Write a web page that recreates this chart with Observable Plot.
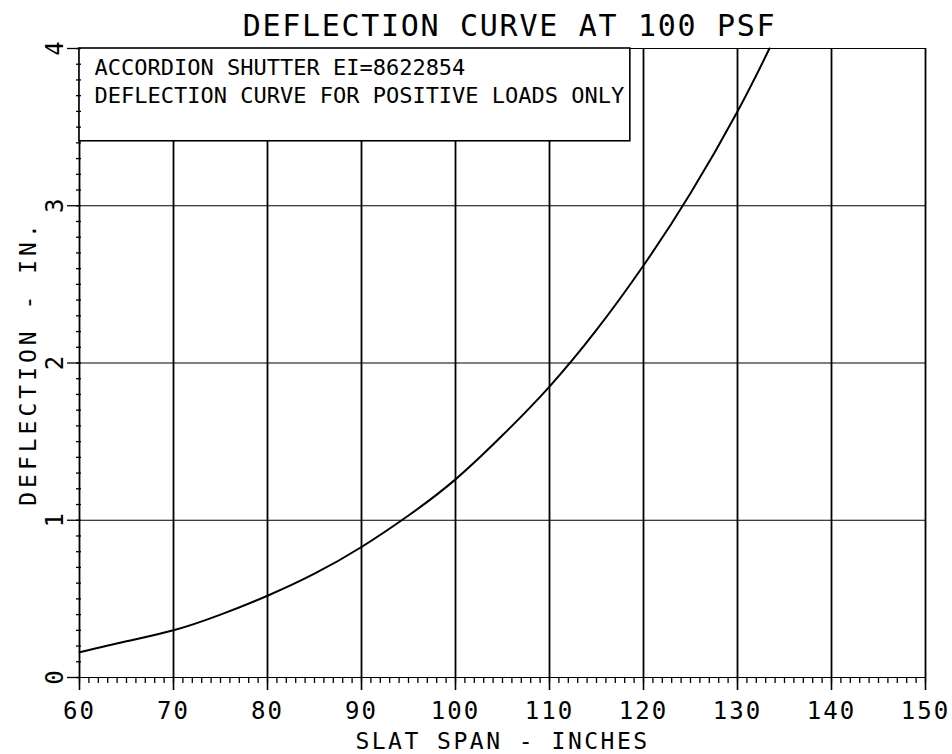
<!DOCTYPE html>
<html>
<head>
<meta charset="utf-8">
<script src="https://cdn.jsdelivr.net/npm/d3@7"></script>
<script src="https://cdn.jsdelivr.net/npm/@observablehq/plot@0.6"></script>
<style>
html, body { margin: 0; padding: 0; background: #fff; }
#chart svg { display: block; }
</style>
</head>
<body>
<div id="chart"></div>
<script>
// Data
const spanIn = [60, 65, 70, 75, 80, 85, 90, 95, 100, 105, 110, 115, 120, 125, 130, 133.4];
const deflectionIn = [0.16, 0.23, 0.30, 0.40, 0.52, 0.66, 0.83, 1.03, 1.26, 1.54, 1.85, 2.21, 2.62, 3.08, 3.60, 4.0];

const xTicks = [60, 70, 80, 90, 100, 110, 120, 130, 140, 150];
const xMinorTicks = d3.range(60, 151, 1);
const yTicks = [0, 1, 2, 3, 4];
const yMinorTicks = d3.range(0, 41, 1).map(d => d / 10);

const titleText = "DEFLECTION CURVE AT 100 PSF";
const legendLines = ["ACCORDION SHUTTER EI=8622854", "DEFLECTION CURVE FOR POSITIVE LOADS ONLY"];
const xLabelText = "SLAT SPAN - INCHES";
const yLabelText = "DEFLECTION - IN.";

const curve = spanIn.map((s, i) => ({span: s, deflection: deflectionIn[i]}));
const legendBox = [{x1: 60, x2: 118.6, y1: 3.41, y2: 4}];

const font = "DejaVu Sans Mono";

const chart = Plot.plot({
  width: 952,
  height: 754,
  marginLeft: 79,
  marginRight: 27,
  marginTop: 48,
  marginBottom: 77,
  style: {fontFamily: font, background: "#fff", color: "#000"},
  x: {domain: [60, 150], label: null},
  y: {domain: [0, 4], label: null},
  marks: [
    Plot.ruleY(yTicks, {x1: 60, x2: 150, stroke: "#000", strokeWidth: 1.2}),
    Plot.ruleX(xTicks, {y1: 0, y2: 4, stroke: "#000", strokeWidth: 1.8}),
    Plot.rect(legendBox, {x1: "x1", x2: "x2", y1: "y1", y2: "y2", fill: "#fff", stroke: "#000", strokeWidth: 1.6}),
    Plot.line(curve, {x: "span", y: "deflection", curve: "natural", stroke: "#000", strokeWidth: 2}),
    Plot.axisX({ticks: xMinorTicks, tickSize: 6, tickFormat: () => "", label: null, strokeWidth: 1.3}),
    Plot.axisX({ticks: xTicks, tickSize: 13, tickPadding: 11, fontSize: 24, label: null, strokeWidth: 1.6, tickFormat: d => String(d)}),
    Plot.axisY({ticks: yMinorTicks, tickSize: 5, dx: 2, tickFormat: () => "", label: null, strokeWidth: 1.3}),
    Plot.axisY({ticks: yTicks, tickSize: 12, tickPadding: 5, tickRotate: -90, fontSize: 24, label: null, strokeWidth: 1.3, tickFormat: d => String(d)}),
    Plot.text([legendLines[0]], {frameAnchor: "top-left", dx: 15, dy: 26, lineAnchor: "bottom", textAnchor: "start", fontSize: 22, fill: "#000"}),
    Plot.text([legendLines[1]], {frameAnchor: "top-left", dx: 15, dy: 54, lineAnchor: "bottom", textAnchor: "start", fontSize: 22, fill: "#000"}),
    Plot.text([titleText], {frameAnchor: "top", dx: 7, dy: -13, lineAnchor: "bottom", fontSize: 30, fill: "#000"}),
    Plot.text([xLabelText], {frameAnchor: "bottom", dx: 0, dy: 71, lineAnchor: "bottom", fontSize: 23, fill: "#000"}),
    Plot.text([yLabelText], {frameAnchor: "left", dx: -44, dy: 0, rotate: -90, lineAnchor: "bottom", textAnchor: "middle", fontSize: 23, fill: "#000"})
  ]
});

// letter spacing to mimic the wide plotter lettering
const spacing = new Map([
  [titleText, "1.7px"],
  [xLabelText, "2.5px"],
  [yLabelText, "4px"]
]);
xTicks.forEach(t => spacing.set(String(t), "2px"));
d3.select(chart).selectAll("text").each(function () {
  const s = spacing.get(this.textContent);
  if (s) this.style.letterSpacing = s;
});

document.getElementById("chart").appendChild(chart);
</script>
</body>
</html>
